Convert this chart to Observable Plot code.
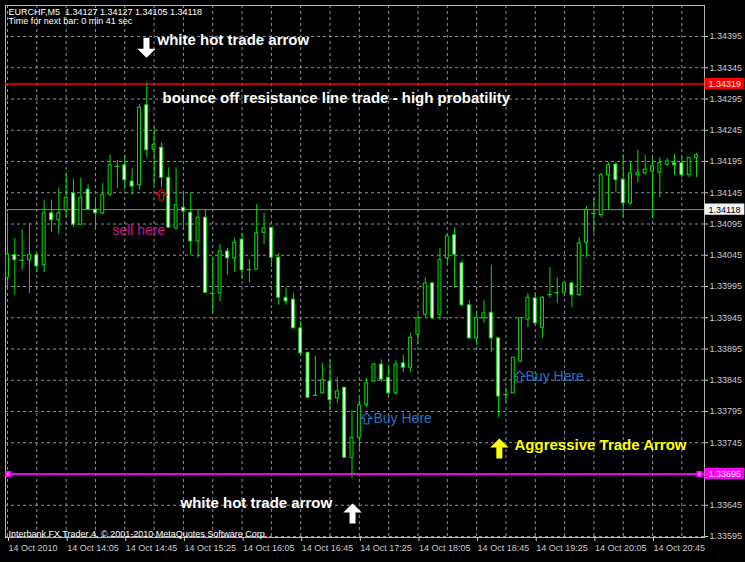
<!DOCTYPE html>
<html><head><meta charset="utf-8">
<script src="https://cdn.jsdelivr.net/npm/d3@7"></script>
<script src="https://cdn.jsdelivr.net/npm/@observablehq/plot@0.6"></script>
<style>html,body{margin:0;padding:0;background:#000;overflow:hidden;}</style>
</head><body><div id="chart"></div>
<script>
// ---- data (EURCHF, M5, 14 Oct 2010, bars from 13:25) ----
const opens = [1.34009,1.34045,1.34037,1.34037,1.34045,1.34029,1.34112,1.34101,1.34117,1.34144,
1.34094,1.34150,1.34118,1.34112,1.34142,1.34187,1.34189,1.34163,1.34157,1.34285,
1.34214,1.34217,1.34169,1.34088,1.34121,1.34113,1.34067,1.34105,1.33984,1.33984,
1.34051,1.34040,1.34070,1.34022,1.34022,1.34081,1.34089,1.34041,1.33977,1.33974,
1.33928,1.33889,1.33821,1.33824,1.33843,1.33816,1.33833,1.33721,1.33753,1.33805,
1.33843,1.33870,1.33849,1.33824,1.33872,1.33865,1.33918,1.33950,1.34000,1.33950,
1.34040,1.34077,1.34032,1.33965,1.33912,1.33944,1.33953,1.33912,1.33822,1.33824,
1.33875,1.33942,1.33976,1.33929,1.33982,1.33985,1.33985,1.34000,1.33981,1.34065,
1.34112,1.34109,1.34173,1.34190,1.34166,1.34128,1.34173,1.34176,1.34179,1.34177,
1.34190,1.34192,1.34192,1.34173,1.34201];
const highs = [1.34112,1.34072,1.34085,1.34096,1.34048,1.34133,1.34133,1.34153,1.34176,1.34166,
1.34168,1.34158,1.34133,1.34160,1.34205,1.34197,1.34205,1.34184,1.34286,1.34320,
1.34249,1.34225,1.34185,1.34185,1.34144,1.34145,1.34117,1.34117,1.34040,1.34062,
1.34056,1.34073,1.34080,1.34038,1.34126,1.34112,1.34089,1.34048,1.33993,1.33984,
1.33939,1.33889,1.33883,1.33872,1.33877,1.33849,1.33833,1.33797,1.33816,1.33848,
1.33872,1.33878,1.33869,1.33877,1.33885,1.33920,1.33949,1.34009,1.34001,1.34056,
1.34080,1.34089,1.34037,1.33973,1.33953,1.33973,1.34029,1.33912,1.33833,1.33881,
1.33945,1.33984,1.33985,1.33979,1.34025,1.34009,1.34001,1.34000,1.34073,1.34123,
1.34137,1.34176,1.34193,1.34193,1.34206,1.34195,1.34213,1.34205,1.34201,1.34201,
1.34200,1.34206,1.34203,1.34201,1.34208];
const lows = [1.33993,1.33981,1.34021,1.33984,1.34017,1.34017,1.34081,1.34078,1.34104,1.34089,
1.34093,1.34117,1.34085,1.34110,1.34139,1.34152,1.34149,1.34141,1.34149,1.34201,
1.34157,1.34153,1.34089,1.34085,1.34088,1.34045,1.34040,1.33985,1.33952,1.33971,
1.34013,1.34017,1.34006,1.34001,1.34022,1.34062,1.34025,1.33965,1.33965,1.33928,
1.33885,1.33817,1.33819,1.33824,1.33797,1.33808,1.33721,1.33688,1.33733,1.33801,
1.33841,1.33841,1.33821,1.33821,1.33857,1.33857,1.33901,1.33945,1.33942,1.33941,
1.34029,1.33992,1.33963,1.33910,1.33901,1.33936,1.33889,1.33785,1.33808,1.33824,
1.33873,1.33929,1.33934,1.33912,1.33977,1.33968,1.33984,1.33961,1.33979,1.34041,
1.34080,1.34105,1.34117,1.34145,1.34105,1.34125,1.34161,1.34173,1.34105,1.34137,
1.34187,1.34173,1.34168,1.34169,1.34169];
const closes = [1.34046,1.34037,1.34037,1.34045,1.34027,1.34112,1.34101,1.34112,1.34137,1.34094,
1.34137,1.34118,1.34112,1.34141,1.34189,1.34187,1.34165,1.34155,1.34281,1.34213,
1.34222,1.34169,1.34089,1.34125,1.34115,1.34067,1.34105,1.33985,1.33984,1.34051,
1.34040,1.34065,1.34021,1.34022,1.34080,1.34088,1.34041,1.33977,1.33971,1.33928,
1.33888,1.33817,1.33821,1.33845,1.33813,1.33827,1.33721,1.33753,1.33805,1.33840,
1.33870,1.33846,1.33824,1.33870,1.33865,1.33913,1.33944,1.34000,1.33944,1.34037,
1.34075,1.34046,1.33965,1.33912,1.33944,1.33952,1.33912,1.33819,1.33822,1.33881,
1.33944,1.33977,1.33936,1.33977,1.33982,1.33985,1.34000,1.33981,1.34064,1.34117,
1.34112,1.34173,1.34189,1.34165,1.34128,1.34176,1.34177,1.34182,1.34187,1.34192,
1.34195,1.34189,1.34173,1.34201,1.34205];

const timeLabels = ["14 Oct 2010","14 Oct 14:05","14 Oct 14:45","14 Oct 15:25","14 Oct 16:05","14 Oct 16:45",
  "14 Oct 17:25","14 Oct 18:05","14 Oct 18:45","14 Oct 19:25","14 Oct 20:05","14 Oct 20:45"];
const timeTickBars = [0,8,16,24,32,40,48,56,64,72,80,88];
const gridBars = [0,4,8,12,16,20,24,28,32,36,40,44,48,52,56,60,64,68,72,76,80,84,88,92];
const priceLevels = [1.33595,1.33645,1.33695,1.33745,1.33795,1.33845,1.33895,1.33945,1.33995,
  1.34045,1.34095,1.34145,1.34195,1.34245,1.34295,1.34345,1.34395];

const resistance = 1.34319;
const support = 1.33695;
const lastPrice = 1.34118;
const supportAnchors = [0.1, 94.4];

const headerText = "EURCHF,M5  1.34127 1.34127 1.34105 1.34118\nTime for next bar: 0 min 41 sec";
const footerText = "Interbank FX Trader 4, \u00a9 2001-2010 MetaQuotes Software Corp.";

// annotations: bar index (x) and price (y)
const annotations = [
  {label: "white hot trade arrow", i: 20.46, p: 1.34389, color: "#ffffff", size: 15, weight: "bold"},
  {label: "bounce off resistance line trade - high probatility", i: 21.15, p: 1.34297, color: "#ffffff", size: 15, weight: "bold"},
  {label: "sell here", i: 14.32, p: 1.34085, color: "#c8198a", size: 14, weight: "normal"},
  {label: "Buy Here", i: 49.93, p: 1.33784, color: "#2372c0", size: 14, weight: "normal"},
  {label: "Buy Here", i: 70.67, p: 1.33851, color: "#2372c0", size: 14, weight: "normal"},
  {label: "Aggressive Trade Arrow", i: 69.17, p: 1.33741, color: "#ffff00", size: 15, weight: "bold"},
  {label: "white hot trade arrow", i: 23.6, p: 1.33649, color: "#ffffff", size: 15, weight: "bold"}
];
const solidArrows = [
  {i: 18.96, p: 1.34377, rot: 180, color: "#ffffff"},
  {i: 47.07, p: 1.33632, rot: 0, color: "#ffffff"},
  {i: 67.1, p: 1.33736, rot: 0, color: "#ffff00"}
];
const hollowArrows = [
  {i: 21.0, p: 1.34142, color: "#e00000"},
  {i: 48.98, p: 1.33784, color: "#2372c0"},
  {i: 69.85, p: 1.33851, color: "#2372c0"}
];
const priceTags = [
  {p: resistance, bg: "#ff0000", fg: "#ffe8e8"},
  {p: lastPrice, bg: "#f2f2f2", fg: "#000000"},
  {p: support, bg: "#ff00ff", fg: "#ffe0ff"}
];

// ---- build ----
const candles = opens.map((o, i) => ({i, o, h: highs[i], l: lows[i], c: closes[i]}));
const bulls = candles.filter(d => d.c > d.o);
const bears = candles.filter(d => d.c < d.o);
const dojis = candles.filter(d => d.c === d.o);
const green = "#00e000";
const gridColor = "#8591a0";
const xMin = -0.273, xMax = 95.09;

function arrowShape(sf, hf, hlf) {
  return {
    draw(context, l) {
      const s = l * sf, h = l * hf, hl = l * hlf;
      context.moveTo(-s, 0);
      context.lineTo(-s, -l + hl);
      context.lineTo(-h, -l + hl);
      context.lineTo(0, -l);
      context.lineTo(h, -l + hl);
      context.lineTo(s, -l + hl);
      context.lineTo(s, 0);
      context.closePath();
    }
  };
}
const blockArrow = arrowShape(0.15, 0.46, 0.45);
const outlineArrow = arrowShape(0.2, 0.48, 0.5);

const marks = [
  Plot.ruleX(gridBars, {stroke: gridColor, strokeDasharray: "3,3"}),
  Plot.ruleY(priceLevels, {stroke: gridColor, strokeDasharray: "3,3"}),
  Plot.frame({stroke: "#b4b4b4"}),
  Plot.ruleY([lastPrice], {stroke: "#7d8893", strokeWidth: 1}),
  Plot.ruleY([resistance], {stroke: "#ff0000", strokeWidth: 1.6}),
  Plot.ruleY([support], {stroke: "#ee00ee", strokeWidth: 2}),
  Plot.dot(supportAnchors, {x: d => d, y: () => support, symbol: "square", r: 2.6, fill: "#ff60ff", stroke: "#ff00ff"}),
  Plot.ruleX(candles, {x: "i", y1: "l", y2: "h", stroke: green, strokeWidth: 1}),
  Plot.rect(bulls, {x1: d => d.i - 0.2, x2: d => d.i + 0.2, y1: "o", y2: "c", fill: "#000000", stroke: green, strokeWidth: 1}),
  Plot.rect(bears, {x1: d => d.i - 0.2, x2: d => d.i + 0.2, y1: "o", y2: "c", fill: "#ffffff", stroke: green, strokeWidth: 1}),
  Plot.ruleY(dojis, {y: "o", x1: d => d.i - 0.3, x2: d => d.i + 0.3, stroke: green, strokeWidth: 1.2}),
  Plot.axisY({anchor: "right", ticks: priceLevels, tickFormat: d => d.toFixed(5), tickSize: 3, tickPadding: 2, label: null, color: "#cccccc", fontSize: 9}),
  Plot.axisX({ticks: timeTickBars, tickFormat: (d, k) => timeLabels[k], textAnchor: "start", dx: 1, tickSize: 4, tickPadding: 3, label: null, color: "#cccccc", fontSize: 9}),
  Plot.text([headerText], {frameAnchor: "top-left", dx: 3, dy: 2, lineAnchor: "top", textAnchor: "start", fill: "#ffffff", fontSize: 9, lineHeight: 1.1}),
  Plot.text([footerText], {frameAnchor: "bottom-left", dx: 3, dy: -1, lineAnchor: "bottom", textAnchor: "start", fill: "#ffffff", fontSize: 9})
];
for (const t of priceTags) {
  marks.push(Plot.rect([t], {x1: () => xMax + 0.07, x2: () => xMax + 5.5, y1: d => d.p - 0.00009, y2: d => d.p + 0.00009, fill: t.bg}));
  marks.push(Plot.text([t], {x: () => xMax + 0.55, y: "p", text: d => d.p.toFixed(5), textAnchor: "start", fill: t.fg, fontSize: 9}));
}
for (const a of solidArrows) {
  marks.push(Plot.vector([a], {x: "i", y: "p", length: 20, rotate: a.rot, shape: blockArrow, anchor: "middle", fill: a.color, stroke: "none"}));
}
for (const a of hollowArrows) {
  marks.push(Plot.vector([a], {x: "i", y: "p", length: 11, rotate: 0, shape: outlineArrow, anchor: "middle", fill: "none", stroke: a.color, strokeWidth: 1.2, strokeLinejoin: "miter"}));
}
for (const a of annotations) {
  marks.push(Plot.text([a], {x: "i", y: "p", text: "label", textAnchor: "start", fill: a.color, fontSize: a.size, fontWeight: a.weight}));
}

const chart = Plot.plot({
  width: 745,
  height: 562,
  marginLeft: 5,
  marginRight: 41,
  marginTop: 5,
  marginBottom: 25,
  style: {background: "#000000", color: "#ffffff", fontFamily: "'Liberation Sans', Arial, sans-serif", fontSize: "9px", overflow: "visible"},
  x: {type: "linear", domain: [xMin, xMax], axis: null},
  y: {type: "linear", domain: [1.335934, 1.344446], axis: null},
  marks
});
document.getElementById("chart").appendChild(chart);
</script>
</body></html>
